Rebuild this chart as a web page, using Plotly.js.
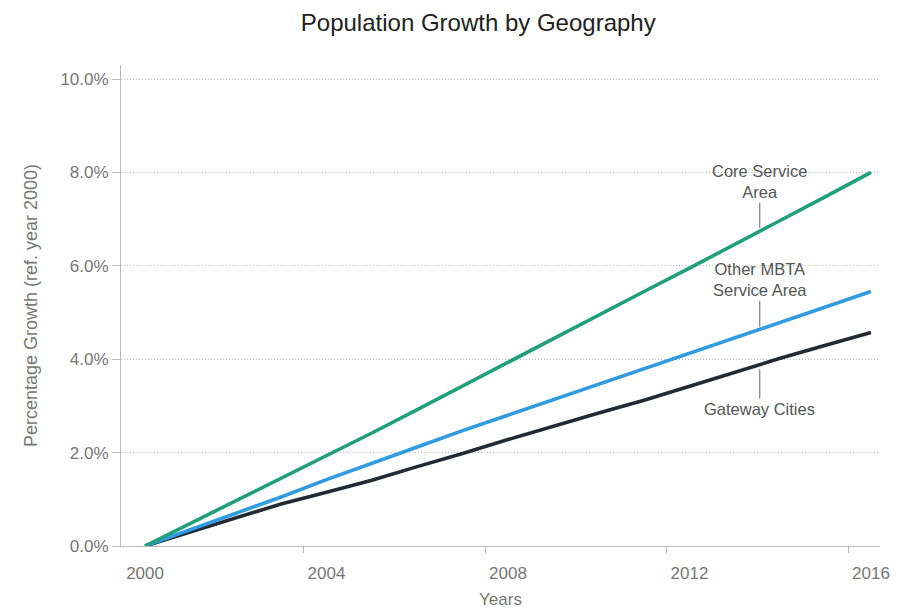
<!DOCTYPE html>
<html>
<head>
<meta charset="utf-8">
<script src="https://cdn.plot.ly/plotly-3.0.1.min.js"></script>
<style>html,body{margin:0;padding:0;background:#fff;}#chart{width:899px;height:610px;}</style>
</head>
<body>
<div id="chart"></div>
<script>
const years = [2000,2001,2002,2003,2004,2005,2006,2007,2008,2009,2010,2011,2012,2013,2014,2015,2016];
const coreService = [0,0.48,0.97,1.45,1.93,2.42,2.92,3.43,3.94,4.44,4.95,5.45,5.95,6.45,6.97,7.48,8.0];
const otherMBTA = [0,0.35,0.69,1.05,1.42,1.78,2.12,2.47,2.8,3.15,3.48,3.8,4.12,4.45,4.8,5.12,5.45];
const gatewayCities = [0,0.3,0.6,0.9,1.15,1.41,1.7,1.98,2.28,2.57,2.85,3.12,3.42,3.73,4.02,4.3,4.57];
const xTickLabels = ['2000','2004','2008','2012','2016'];
const xTickVals = [2000,2004,2008,2012,2016];
const xTickMarkVals = [2003.5,2007.5,2011.5,2015.5];
const yTickVals = [0,2,4,6,8,10];
const yTickLabels = ['0.0%','2.0%','4.0%','6.0%','8.0%','10.0%'];

const font = 'Liberation Sans, Arial, sans-serif';
const traces = [
  {x: years, y: gatewayCities, mode: 'lines', name: 'Gateway Cities', line: {color: '#232a33', width: 3.6}},
  {x: years, y: otherMBTA, mode: 'lines', name: 'Other MBTA Service Area', line: {color: '#2f9be0', width: 3.6}},
  {x: years, y: coreService, mode: 'lines', name: 'Core Service Area', line: {color: '#1fa079', width: 3.6}},
  {x: [null], y: [null], xaxis: 'x2', showlegend: false, hoverinfo: 'skip'}
];

const ann = (x, y, text, ay) => ({
  x: x, y: y, xref: 'x', yref: 'y', text: text, showarrow: true, arrowhead: 0,
  arrowwidth: 1, arrowcolor: '#666', ax: 0, ay: ay, standoff: 2,
  font: {family: font, size: 16.5, color: '#555'}, align: 'center', borderpad: 1
});

const layout = {
  width: 899, height: 610,
  margin: {l: 121, r: 19, t: 65, b: 64},
  paper_bgcolor: '#fff', plot_bgcolor: '#fff',
  showlegend: false,
  title: {text: 'Population Growth by Geography', x: 0.532, xanchor: 'center', y: 0.963, yanchor: 'middle',
          font: {family: font, size: 24, color: '#222'}},
  xaxis: {
    range: [1999.47, 2016.2], tickvals: xTickVals, ticktext: xTickLabels, ticks: '',
    showline: true, linecolor: '#bbb', linewidth: 1, showgrid: false, zeroline: false,
    ticklabelstandoff: 12,
    tickfont: {family: font, size: 17, color: '#777'},
    title: {text: 'Years', font: {family: font, size: 17, color: '#777'}, standoff: 10}
  },
  xaxis2: {
    overlaying: 'x', anchor: 'y', side: 'bottom', matches: 'x', range: [1999.47, 2016.2],
    tickvals: xTickMarkVals, ticks: 'outside', ticklen: 6, tickcolor: '#bbb',
    showticklabels: false, showgrid: false, zeroline: false, showline: false
  },
  yaxis: {
    range: [0, 10.3], tickvals: yTickVals, ticktext: yTickLabels,
    ticks: 'outside', ticklen: 8, tickcolor: '#bbb',
    showline: true, linecolor: '#bbb', linewidth: 1,
    showgrid: true, gridcolor: '#b8b8b8', griddash: '1px,2px', gridwidth: 1, zeroline: false,
    tickfont: {family: font, size: 17, color: '#777'},
    title: {text: 'Percentage Growth (ref. year 2000)', font: {family: font, size: 18, color: '#777'}, standoff: 18}
  },
  annotations: [
    ann(2013.55, 6.77, 'Core Service<br>Area', -48),
    ann(2013.55, 4.65, 'Other MBTA<br>Service Area', -49),
    ann(2013.55, 3.83, 'Gateway Cities', 42)
  ]
};
Plotly.newPlot('chart', traces, layout, {displayModeBar: false, staticPlot: true});
</script>
</body>
</html>
